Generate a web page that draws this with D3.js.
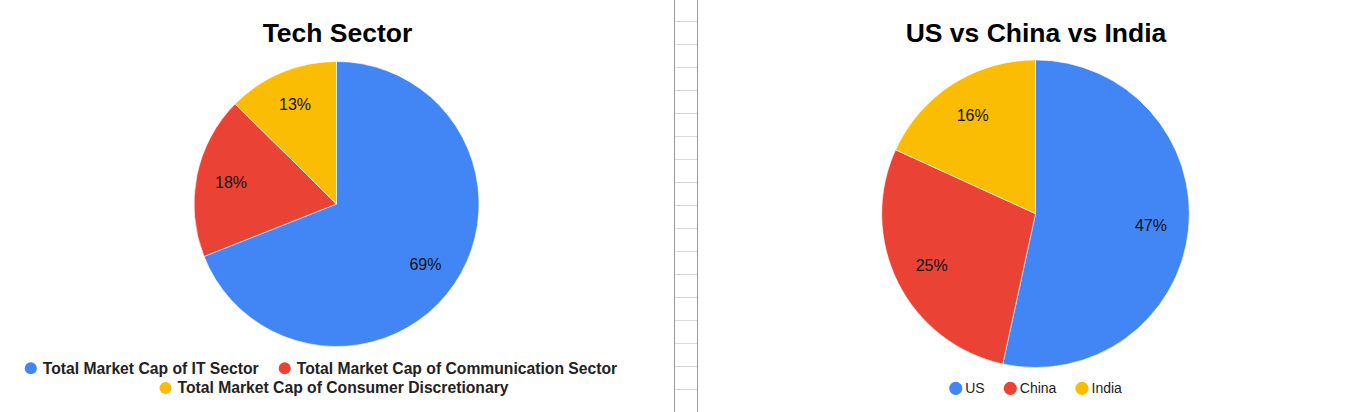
<!DOCTYPE html>
<html>
<head>
<meta charset="utf-8">
<script src="https://cdn.jsdelivr.net/npm/d3@7"></script>
<style>
  html, body { margin: 0; padding: 0; background: #fff; }
  svg { display: block; }
  text { font-family: "Liberation Sans", Arial, sans-serif; }
</style>
</head>
<body>
<svg id="chart" width="1362" height="412"></svg>
<script>
// ---- Data ----
const colors = ["#4285F4", "#EA4335", "#FBBC04"];

const techTitle = "Tech Sector";
const techCategories = [
  "Total Market Cap of IT Sector",
  "Total Market Cap of Communication Sector",
  "Total Market Cap of Consumer Discretionary"
];
const techValues = [69, 18.4, 12.6];

const countryTitle = "US vs China vs India";
const countryCategories = ["US", "China", "India"];
const countryValues = [47, 25, 16];

// ---- Drawing ----
const svg = d3.select("#chart");
svg.append("rect").attr("width", 1362).attr("height", 412).attr("fill", "#fff");

// Spreadsheet strip between the two charts
const strip = svg.append("g");
strip.selectAll("line.h").data(d3.range(21.5, 412, 23)).join("line")
  .attr("x1", 675).attr("x2", 697).attr("y1", d => d).attr("y2", d => d)
  .attr("stroke", "#dadada").attr("stroke-width", 1);
[674.5, 697.5].forEach(x => strip.append("line")
  .attr("x1", x).attr("x2", x).attr("y1", 0).attr("y2", 412)
  .attr("stroke", "#9a9a9a").attr("stroke-width", 1));

const fmt = v => d3.format(".0f")(v) + "%";

function drawPie(cfg) {
  const g = svg.append("g");
  g.append("text")
    .attr("x", cfg.titleX).attr("y", 42)
    .attr("text-anchor", "middle")
    .attr("font-size", 26.5).attr("font-weight", "bold").attr("fill", "#000")
    .text(cfg.title);

  const pie = d3.pie().sort(null).value(d => d.value);
  const arcs = pie(cfg.categories.map((c, i) => ({ name: c, value: cfg.values[i], i })));
  const arc = d3.arc().innerRadius(0).outerRadius(cfg.r);
  const labelArc = d3.arc().innerRadius(cfg.r * 0.755).outerRadius(cfg.r * 0.755);

  const pg = g.append("g").attr("transform", `translate(${cfg.cx},${cfg.cy})`);
  pg.selectAll("path").data(arcs).join("path")
    .attr("d", arc)
    .attr("fill", d => colors[d.data.i])
    .attr("stroke", "#fff").attr("stroke-width", 0.6);
  pg.selectAll("text").data(arcs).join("text")
    .attr("transform", d => `translate(${labelArc.centroid(d)})`)
    .attr("text-anchor", "middle").attr("dy", "0.33em")
    .attr("font-size", 16).attr("fill", "#111")
    .text(d => fmt(d.data.value));

  // Legend
  const lg = g.append("g");
  cfg.legendRows.forEach(row => {
    const items = row.idx.map(i => ({ i, name: cfg.categories[i] }));
    const rg = lg.append("g");
    let x = 0;
    items.forEach((it, k) => {
      const ig = rg.append("g").attr("transform", `translate(${x},0)`);
      ig.append("circle").attr("cx", cfg.dotR).attr("cy", row.y)
        .attr("r", cfg.dotR).attr("fill", colors[it.i]);
      const t = ig.append("text")
        .attr("x", cfg.dotR + cfg.textGap).attr("y", row.y + cfg.baseOff)
        .attr("font-size", cfg.legendSize).attr("font-weight", cfg.legendWeight)
        .attr("fill", "#222").text(it.name);
      const w = t.node().getComputedTextLength();
      x += cfg.dotR + cfg.textGap + w + cfg.itemGap;
    });
    const total = x - cfg.itemGap;
    rg.attr("transform", `translate(${row.cx - total / 2},0)`);
  });
}

drawPie({
  title: techTitle, titleX: 337.5,
  categories: techCategories, values: techValues,
  cx: 336.5, cy: 204, r: 142.5,
  dotR: 6, textGap: 12, itemGap: 20, baseOff: 5.2, legendSize: 15.7, legendWeight: "bold",
  legendRows: [{ idx: [0, 1], y: 368.3, cx: 321 }, { idx: [2], y: 388, cx: 334 }]
});

drawPie({
  title: countryTitle, titleX: 1036,
  categories: countryCategories, values: countryValues,
  cx: 1035.5, cy: 213.7, r: 153.8,
  dotR: 6.6, textGap: 9.5, itemGap: 19, baseOff: 5, legendSize: 14, legendWeight: "normal",
  legendRows: [{ idx: [0, 1, 2], y: 388.3, cx: 1035.5 }]
});
</script>
</body>
</html>
